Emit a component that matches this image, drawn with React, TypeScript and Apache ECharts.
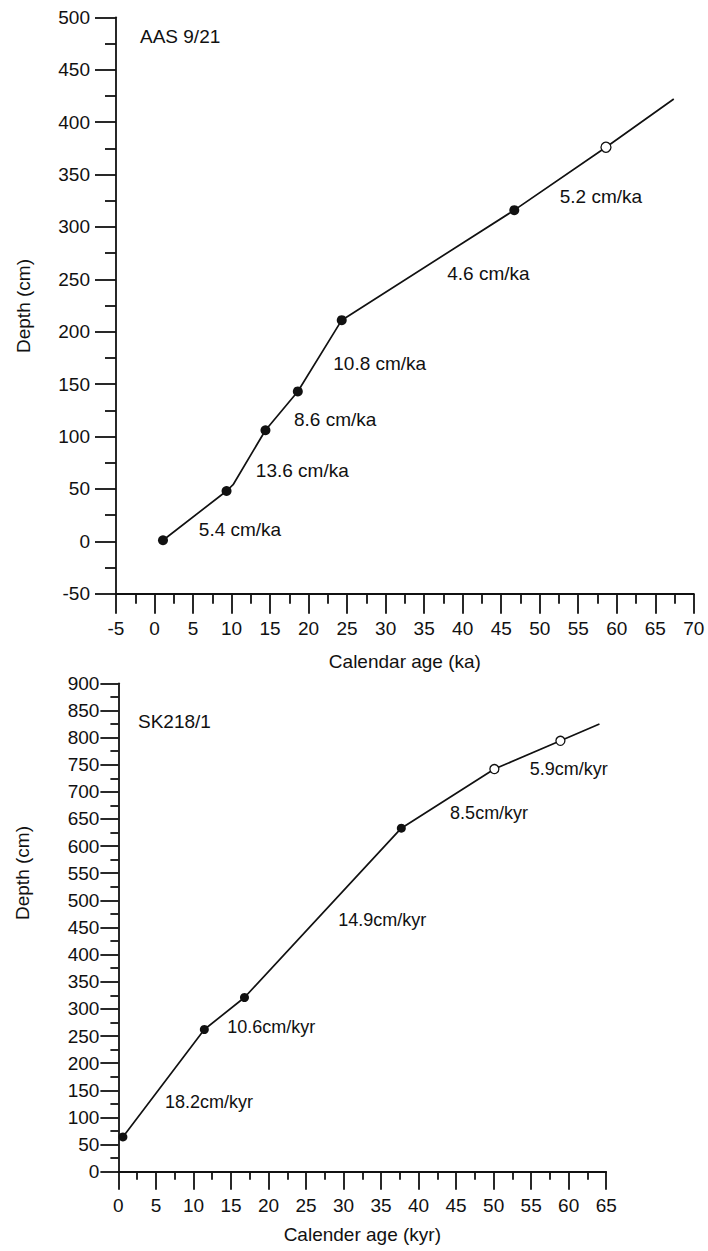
import React, { useEffect, useRef } from "react";
import * as echarts from "echarts";

// ---- Data: AAS 9/21 (top panel) ----
const agesA = [1.1, 9.35, 10.2, 14.4, 18.6, 24.3, 46.7, 58.6, 67.4];
const depthsA = [1, 48, 54, 106, 143, 211, 316, 376, 422];
const markersA = ["filled", "filled", "none", "filled", "filled", "filled", "filled", "open", "none"];

const rateTextA = ["5.4 cm/ka", "13.6 cm/ka", "8.6 cm/ka", "10.8 cm/ka", "4.6 cm/ka", "5.2 cm/ka"];
const rateAgeA = [5.75, 13.15, 18.1, 23.2, 38.0, 52.6];
const rateDepthA = [11.5, 67.8, 116.5, 170, 255.6, 328.7];

// ---- Data: SK218/1 (bottom panel) ----
const agesB = [0.6, 11.45, 16.8, 37.7, 50.1, 58.9, 64.1];
const depthsB = [64, 262, 321, 633, 742, 794, 825];
const markersB = ["filled", "filled", "filled", "filled", "open", "open", "none"];

const rateTextB = ["18.2cm/kyr", "10.6cm/kyr", "14.9cm/kyr", "8.5cm/kyr", "5.9cm/kyr"];
const rateAgeB = [6.2, 14.5, 29.3, 44.2, 54.8];
const rateDepthB = [128.4, 266.6, 463.8, 661, 741.7];

const FONT = "'Liberation Sans', Arial, Helvetica, sans-serif";
const INK = "#111111";

function pointItem(x: number, y: number, kind: string, size: number) {
  if (kind === "filled") {
    return { value: [x, y], symbol: "circle", symbolSize: size, itemStyle: { color: INK, borderWidth: 0 } };
  }
  if (kind === "open") {
    return {
      value: [x, y],
      symbol: "circle",
      symbolSize: size,
      itemStyle: { color: "#ffffff", borderColor: INK, borderWidth: 1.3 },
    };
  }
  return { value: [x, y], symbol: "none", symbolSize: 0 };
}

function axisCommon(tickLen: number, minorLen: number, labelMargin: number) {
  return {
    axisLine: { show: true, onZero: false, lineStyle: { color: INK, width: 1.8 } },
    axisTick: { show: true, inside: false, length: tickLen, lineStyle: { color: INK, width: 1.8 } },
    minorTick: { show: true, splitNumber: 2, length: minorLen, lineStyle: { color: INK, width: 1.8 } },
    splitLine: { show: false },
    minorSplitLine: { show: false },
    axisLabel: { color: INK, fontSize: 19, fontFamily: FONT, margin: labelMargin },
  };
}

function labelSeries(xi: number, ages: number[], depths: number[], texts: string[], fs: number) {
  return {
    type: "scatter",
    xAxisIndex: xi,
    yAxisIndex: xi,
    silent: true,
    symbol: "circle",
    symbolSize: 0,
    itemStyle: { color: INK },
    data: ages.map((a, i) => ({ value: [a, depths[i]], name: texts[i] })),
    label: {
      show: true,
      position: "right",
      distance: 0,
      formatter: "{b}",
      color: INK,
      opacity: 1,
      fontSize: fs,
      fontFamily: FONT,
    },
    z: 5,
  };
}

export default function App() {
  const ref = useRef<HTMLDivElement>(null);
  useEffect(() => {
    if (!ref.current) return;
    const chart = echarts.init(ref.current, undefined, { renderer: "svg" });
    const option: any = {
      animation: false,
      backgroundColor: "#ffffff",
      textStyle: { fontFamily: FONT },
      grid: [
        { left: 116, top: 17.3, width: 577.8, height: 576.4, containLabel: false },
        { left: 118.4, top: 683.3, width: 487.8, height: 488.4, containLabel: false },
      ],
      xAxis: [
        {
          type: "value",
          gridIndex: 0,
          min: -5,
          max: 70,
          interval: 5,
          name: "Calendar age (ka)",
          nameLocation: "middle",
          nameGap: 58,
          nameTextStyle: { color: INK, fontSize: 19, fontFamily: FONT },
          ...axisCommon(20, 10, 25),
        },
        {
          type: "value",
          gridIndex: 1,
          min: 0,
          max: 65,
          interval: 5,
          name: "Calender age (kyr)",
          nameLocation: "middle",
          nameGap: 53,
          nameTextStyle: { color: INK, fontSize: 19, fontFamily: FONT },
          ...axisCommon(18, 8, 24),
        },
      ],
      yAxis: [
        {
          type: "value",
          gridIndex: 0,
          min: -50,
          max: 500,
          interval: 50,
          ...axisCommon(21, 11, 26),
        },
        {
          type: "value",
          gridIndex: 1,
          min: 0,
          max: 900,
          interval: 50,
          ...axisCommon(18, 8, 19),
        },
      ],
      graphic: [
        {
          type: "text",
          x: 140,
          y: 36,
          style: { text: "AAS 9/21", fill: INK, fontSize: 19, fontFamily: FONT, verticalAlign: "middle", align: "left" },
        },
        {
          type: "text",
          x: 138,
          y: 721,
          style: { text: "SK218/1", fill: INK, fontSize: 19, fontFamily: FONT, verticalAlign: "middle", align: "left" },
        },
        {
          type: "text",
          x: 23,
          y: 306,
          rotation: Math.PI / 2,
          style: { text: "Depth (cm)", fill: INK, fontSize: 19, fontFamily: FONT, verticalAlign: "middle", align: "center" },
        },
        {
          type: "text",
          x: 22,
          y: 873,
          rotation: Math.PI / 2,
          style: { text: "Depth (cm)", fill: INK, fontSize: 19, fontFamily: FONT, verticalAlign: "middle", align: "center" },
        },
      ],
      series: [
        {
          type: "line",
          xAxisIndex: 0,
          yAxisIndex: 0,
          silent: true,
          showSymbol: true,
          lineStyle: { color: INK, width: 1.7 },
          data: agesA.map((a, i) => pointItem(a, depthsA[i], markersA[i], 10)),
          z: 3,
        },
        {
          type: "line",
          xAxisIndex: 1,
          yAxisIndex: 1,
          silent: true,
          showSymbol: true,
          lineStyle: { color: INK, width: 1.7 },
          data: agesB.map((a, i) => pointItem(a, depthsB[i], markersB[i], 9)),
          z: 3,
        },
        labelSeries(0, rateAgeA, rateDepthA, rateTextA, 19),
        labelSeries(1, rateAgeB, rateDepthB, rateTextB, 18),
      ],
    };
    chart.setOption(option);
    return () => chart.dispose();
  }, []);
  return (
    <div
      ref={ref}
      style={{ position: "absolute", left: 0, top: 0, width: 708, height: 1251, background: "#fff" }}
    />
  );
}
